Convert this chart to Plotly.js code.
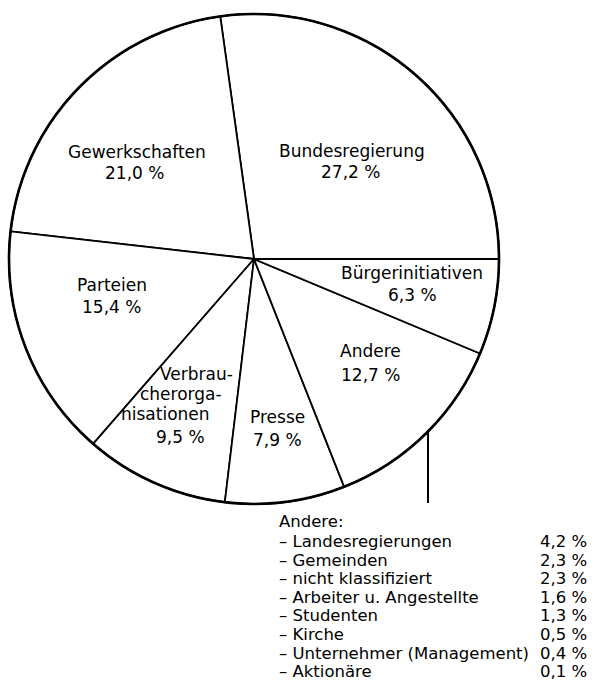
<!DOCTYPE html>
<html>
<head>
<meta charset="utf-8">
<script src="https://cdn.plot.ly/plotly-3.0.1.min.js"></script>
<style>html,body{margin:0;padding:0;background:#fff;}#chart{width:596px;height:683px;}</style>
</head>
<body>
<div id="chart"></div>
<script>
// ---- data ----
const categories = ["Bundesregierung", "Gewerkschaften", "Parteien", "Verbraucherorganisationen", "Presse", "Andere", "Bürgerinitiativen"];
const shares = [27.2, 21.0, 15.4, 9.5, 7.9, 12.7, 6.3];
const labelLines = [["Bundesregierung"], ["Gewerkschaften"], ["Parteien"], ["Verbrau-", "cherorga-", "nisationen"], ["Presse"], ["Andere"], ["Bürgerinitiativen"]];
const andereTitle = "Andere:";
const andereItems = ["Landesregierungen", "Gemeinden", "nicht klassifiziert", "Arbeiter u. Angestellte", "Studenten", "Kirche", "Unternehmer (Management)", "Aktionäre"];
const andereShares = [4.2, 2.3, 2.3, 1.6, 1.3, 0.5, 0.4, 0.1];

// ---- layout config (pixel positions) ----
const W = 596, H = 683;
const cx = 254, cy = 259, R = 245;
const labelPos = [
  [[352, 151], [350, 172]],
  [[137, 152], [134, 173]],
  [[112, 285], [111, 307]],
  [[196, 374], [181, 394], [165, 414], [180, 437]],
  [[277, 417], [277, 440]],
  [[370, 351], [370, 375]],
  [[412, 273], [412, 295]]
];
const listX = 277, valX = 538, listTitleY = 521, listY0 = 541.5, listDY = 18.6;
const FONT = "DejaVu Sans, Liberation Sans, Arial, sans-serif";
const FS = 17, FS_LIST = 16.5;
const px = x => x / W, py = y => 1 - y / H;
const fmt = v => v.toFixed(1).replace('.', ',') + ' %';
const total = shares.reduce((a, b) => a + b, 0);

const annotations = [];
categories.forEach((c, i) => {
  const lines = labelLines[i].concat([fmt(shares[i])]);
  lines.forEach((t, j) => {
    annotations.push({text: t, x: px(labelPos[i][j][0]), y: py(labelPos[i][j][1]), xref: 'paper', yref: 'paper',
      xanchor: 'center', yanchor: 'middle', showarrow: false, font: {family: FONT, size: FS, color: '#000'}});
  });
});
annotations.push({text: andereTitle, x: px(listX), y: py(listTitleY), xref: 'paper', yref: 'paper',
  xanchor: 'left', yanchor: 'middle', showarrow: false, font: {family: FONT, size: FS_LIST, color: '#000'}});
andereItems.forEach((t, k) => {
  const y = py(listY0 + k * listDY);
  annotations.push({text: '– ' + t, x: px(listX), y: y, xref: 'paper', yref: 'paper',
    xanchor: 'left', yanchor: 'middle', showarrow: false, font: {family: FONT, size: FS_LIST, color: '#000'}});
  annotations.push({text: fmt(andereShares[k]), x: px(valX), y: y, xref: 'paper', yref: 'paper',
    xanchor: 'left', yanchor: 'middle', showarrow: false, font: {family: FONT, size: FS_LIST, color: '#000'}});
});

const trace = {
  type: 'pie', labels: categories, values: shares, sort: false, direction: 'counterclockwise',
  // first slice (Bundesregierung) ends at 3 o'clock and runs counterclockwise from there
  rotation: 90 - shares[0] / total * 360,
  marker: {colors: categories.map(() => '#ffffff'), line: {color: '#000', width: 1.8}},
  textinfo: 'none', hoverinfo: 'skip', showlegend: false,
  domain: {x: [px(cx - R), px(cx + R)], y: [py(cy + R), py(cy - R)]}
};

const layout = {
  width: W, height: H, margin: {l: 0, r: 0, t: 0, b: 0},
  paper_bgcolor: '#fff', plot_bgcolor: '#fff', showlegend: false,
  annotations: annotations,
  shapes: [
    {type: 'circle', xref: 'paper', yref: 'paper', x0: px(cx - R), x1: px(cx + R), y0: py(cy + R), y1: py(cy - R),
     line: {color: '#000', width: 2.6}, fillcolor: 'rgba(0,0,0,0)', layer: 'above'},
    {type: 'line', xref: 'paper', yref: 'paper', x0: px(428), x1: px(428), y0: py(430), y1: py(503), line: {color: '#000', width: 2}}
  ]
};
Plotly.newPlot('chart', [trace], layout, {staticPlot: true, displayModeBar: false});
</script>
</body>
</html>
